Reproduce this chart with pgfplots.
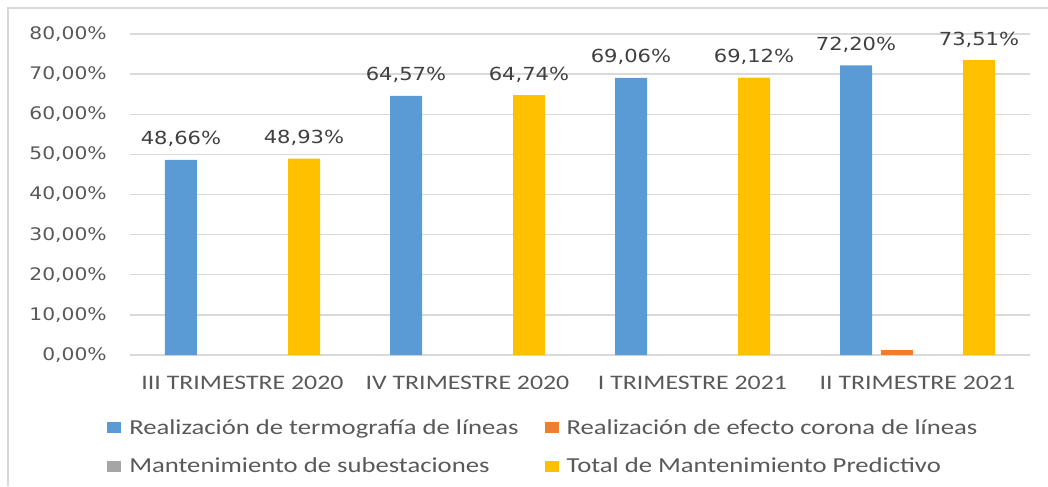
\documentclass[border=0pt]{standalone}
\usepackage{fontspec}
\setmainfont{Carlito}[FakeStretch=1.25]
\newfontfamily\dejavu{DejaVu Sans}[FakeStretch=1.17]
\usepackage{pgfplots}
\pgfplotsset{compat=1.18}
\definecolor{cblue}{HTML}{5B9BD5}
\definecolor{corange}{HTML}{ED7D31}
\definecolor{cgray}{HTML}{A5A5A5}
\definecolor{cyellow}{HTML}{FFC000}
\definecolor{txt}{HTML}{595959}
\definecolor{lbl}{HTML}{404040}
\definecolor{gridc}{HTML}{D9D9D9}
\begin{document}
\begin{tikzpicture}
\path[use as bounding box] (-97.5pt,-98.25pt) rectangle (688.5pt,266.25pt);
\draw[gridc, line width=1.2pt] (-91.5pt,-98.25pt) -- (-91.5pt,260.25pt) -- (688.5pt,260.25pt);
\begin{axis}[
  scale only axis, width=675pt, height=240.75pt,
  xmin=-0.5, xmax=3.5, ymin=0, ymax=80,
  ybar, bar width=24pt,
  ytick={0,10,...,80},
  xtick={0,1,2,3},
  xticklabels={III TRIMESTRE 2020, IV TRIMESTRE 2020, I TRIMESTRE 2021, II TRIMESTRE 2021},
  axis line style={draw=none},
  major tick length=0pt,
  ymajorgrids, grid style={draw=gridc, line width=1pt},
  /pgf/number format/assume math mode=true,
  yticklabel={\pgfmathprintnumber[fixed,fixed zerofill,precision=2,use comma]{\tick}\%},
  yticklabel style={font=\dejavu\fontsize{13}{15}\selectfont, text=txt, anchor=east, inner sep=0pt, xshift=-17.25pt},
  xticklabel style={font=\fontsize{15.5}{18}\selectfont, text=txt, anchor=base, inner sep=0pt, yshift=-25.5pt},
  clip=false,
  legend columns=2,
  legend cell align=left,
  legend image code/.code={\fill[#1] (0pt,-4pt) rectangle (10.5pt,4pt);},
  legend style={at={(-0.02556,-0.1994)}, anchor=north west, draw=none, fill=none, inner sep=0pt,
    font=\fontsize{16}{19}\selectfont, text=txt, row sep=16.5pt,
    nodes={inner sep=0pt},
    /tikz/every odd column/.append style={column sep=6pt},
    /tikz/every even column/.append style={column sep=19.5pt}},
  every node near coord/.append style={font=\dejavu\fontsize{13.5}{16}\selectfont, text=lbl, anchor=base, inner sep=0pt, yshift=11.25pt},
]
\addplot[fill=cblue, draw=none, bar shift=-46.125pt, point meta=y,
  nodes near coords={\pgfmathprintnumber[fixed,fixed zerofill,precision=2,use comma]{\pgfplotspointmeta}\%}]
  coordinates {(0,48.66) (1,64.57) (2,69.06) (3,72.20)};
\addlegendentry{Realización de termografía de líneas}
% efecto corona: 0 in the first three quarters (no bar drawn)
\addplot[fill=corange, draw=none, bar shift=-15.375pt]
  coordinates {(3,1.25)};
\addlegendentry{Realización de efecto corona de líneas}
% subestaciones: 0 in every quarter (no bar drawn)
\addlegendimage{fill=cgray, draw=none}
\addlegendentry{Mantenimiento de subestaciones}
\addplot[fill=cyellow, draw=none, bar shift=46.125pt, point meta=y,
  nodes near coords={\pgfmathprintnumber[fixed,fixed zerofill,precision=2,use comma]{\pgfplotspointmeta}\%}]
  coordinates {(0,48.93) (1,64.74) (2,69.12) (3,73.51)};
\addlegendentry{Total de Mantenimiento Predictivo}
\end{axis}
\end{tikzpicture}
\end{document}
